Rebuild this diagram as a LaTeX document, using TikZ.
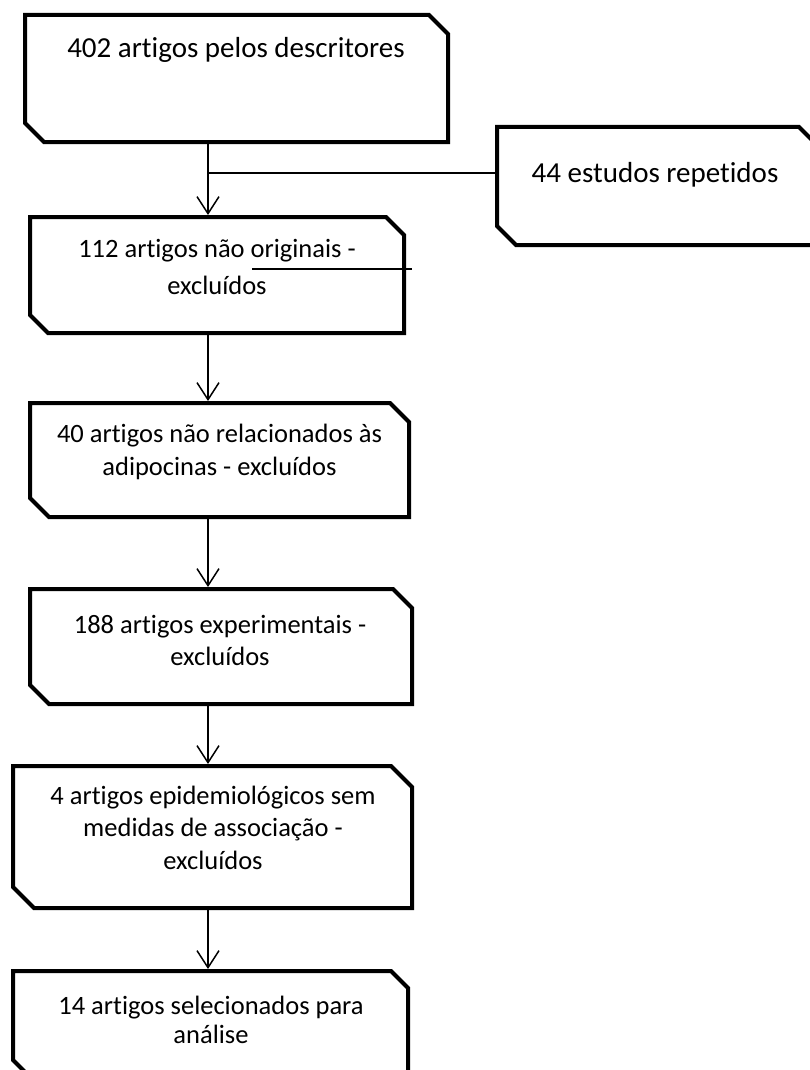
\documentclass[tikz,border=0pt]{standalone}
\usepackage{fontspec}
\setmainfont{Carlito}[Ligatures={NoCommon}]
\usetikzlibrary{arrows.meta}
\tikzset{
  cbox/.style={rectangle, draw=none, inner sep=0pt, outer sep=0pt},
  boxline/.style={line width=4pt, line join=miter},
  txt/.style={align=center, inner sep=0pt, font=\fontsize{26.5}{33}\selectfont},
  bigtxt/.style={align=center, inner sep=0pt, font=\fontsize{29}{35}\selectfont},
  conn/.style={line width=1.5pt, shorten <=2pt, shorten >=2pt},
  arr/.style={line width=1.5pt, shorten <=2pt, shorten >=2pt, -{Straight Barb[length=17pt,width=22pt,line width=1.5pt]}}
}
\newcommand\chamferbox[2][19pt]{%
  \draw[boxline] (#2.north west) -- ([xshift=-#1]#2.north east) -- ([yshift=-#1]#2.north east)
    -- (#2.south east) -- ([xshift=#1]#2.south west) -- ([yshift=#1]#2.south west) -- cycle;}
\begin{document}
\begin{tikzpicture}[x=1pt,y=-1pt]
\useasboundingbox (0,0) rectangle (809,1070);
\coordinate (ax) at (208,0);
\coordinate (hy) at (0,173);
\coordinate (s1) at (252,269);
\coordinate (s2) at (412,269);
% boxes
\node[cbox, minimum width=423pt, minimum height=127pt] (b1) at (236.5,78.5) {};
\node[cbox, minimum width=321pt, minimum height=118pt] (b7) at (657.5,186) {};
\node[cbox, minimum width=374pt, minimum height=116pt] (b2) at (217,275) {};
\node[cbox, minimum width=379pt, minimum height=114pt] (b3) at (219.5,460) {};
\node[cbox, minimum width=382pt, minimum height=115pt] (b4) at (221,646.5) {};
\node[cbox, minimum width=399pt, minimum height=142pt] (b5) at (212.5,837) {};
\node[cbox, minimum width=395pt, minimum height=106pt] (b6) at (210.5,1024) {};
\chamferbox{b1}
\chamferbox{b7}
\chamferbox[18pt]{b2}
\chamferbox{b3}
\chamferbox{b4}
\chamferbox[21pt]{b5}
\chamferbox[17pt]{b6}
% texts
\node[bigtxt] (t1) at (236,50) {402 artigos pelos descritores};
\node[bigtxt] (t7) at (655,175) {44 estudos repetidos};
\node[txt, font=\fontsize{26.5}{37}\selectfont] (t2) at (217,267) {112 artigos não originais -\\excluídos};
\node[txt] (t3) at (219.5,451.5) {40 artigos não relacionados às\\adipocinas - excluídos};
\node[txt, font=\fontsize{26.5}{32}\selectfont] (t4) at (220,640) {188 artigos experimentais -\\excluídos};
\node[txt, font=\fontsize{26.5}{32.5}\selectfont] (t5) at (213,827.5) {4 artigos epidemiológicos sem\\medidas de associação -\\excluídos};
\node[txt, font=\fontsize{26.5}{29}\selectfont] (t6) at (211,1019.5) {14 artigos selecionados para\\análise};
% connectors
\draw[arr] (b1.south -| ax) -- (b2.north -| ax);
\draw[conn, shorten <=0pt] (ax |- hy) -- (b7.west |- hy);
\draw[line width=1.5pt] (s1) -- (s2);
\draw[arr] (b2.south -| ax) -- (b3.north -| ax);
\draw[arr] (b3.south -| ax) -- (b4.north -| ax);
\draw[arr] (b4.south -| ax) -- (b5.north -| ax);
\draw[arr] (b5.south -| ax) -- (b6.north -| ax);
\end{tikzpicture}
\end{document}
